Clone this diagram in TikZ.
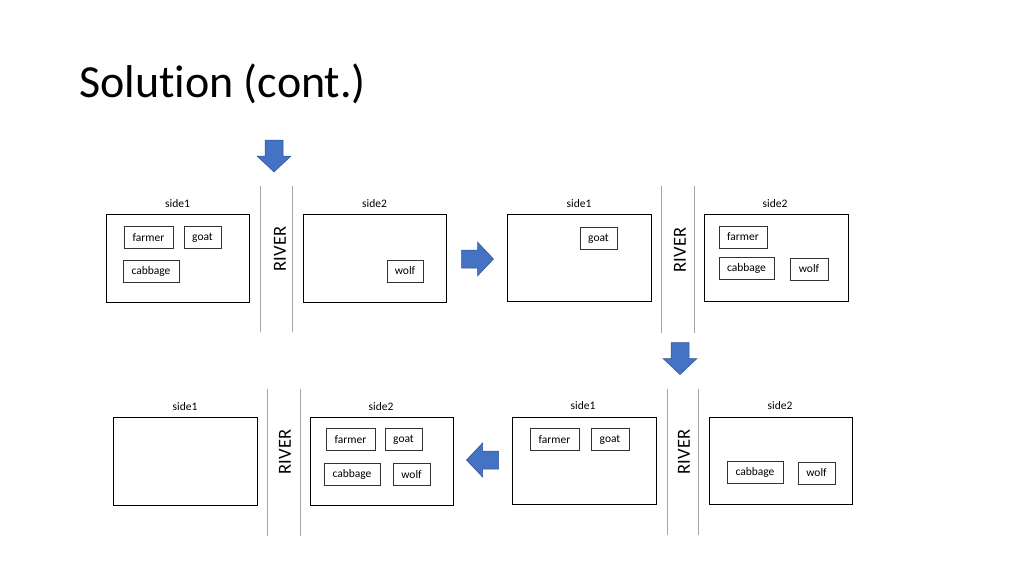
\documentclass[tikz,border=0pt]{standalone}
\usepackage{fontspec}
\setmainfont{Carlito}[Ligatures=NoCommon]
\definecolor{arrowblue}{HTML}{4472C4}
\definecolor{arrowedge}{HTML}{2F528F}
\definecolor{rivergray}{HTML}{A6A6A6}
\newcommand\blockarrow[3]{%
  \begin{scope}[shift={(#1,#2)},rotate=#3]
    \filldraw[fill=arrowblue,draw=arrowedge,line width=0.5pt,line join=miter]
      (-16,-9) -- (0,-9) -- (0,-17) -- (16,0) -- (0,17) -- (0,9) -- (-16,9) -- cycle;
  \end{scope}}
\begin{document}
\begin{tikzpicture}[x=1pt,y=-1pt,
  side/.style={draw=black,line width=0.9pt,inner sep=0pt},
  item/.style={draw=black!80,line width=0.7pt,inner sep=0pt,font=\fontsize{11.5}{13}\selectfont},
  lbl/.style={font=\fontsize{11.5}{13}\selectfont,inner sep=0pt},
  riverline/.style={draw=rivergray,line width=1pt},
  rivertxt/.style={font=\fontsize{18.5}{20}\selectfont,rotate=90,inner sep=0pt}]
\useasboundingbox (0,0) rectangle (1024,576);
% title
\node[anchor=base west,inner sep=0pt,font=\fontsize{46}{50}\selectfont] (title) at (79,97) {Solut\kern0pt ion (cont.)};
% arrows
\blockarrow{274}{156}{-90}
\blockarrow{477.5}{259}{0}
\blockarrow{680}{358.5}{-90}
\blockarrow{482.5}{460}{180}

% ---------- panel 1 ----------
\node[side,minimum width=143pt,minimum height=88pt] (p1a) at (177.5,258) {};
\node[side,minimum width=143pt,minimum height=88pt] (p1b) at (374.5,258) {};
\node[lbl] (p1al) at (177.5,204) {side1};
\node[lbl] (p1bl) at (374.5,204) {side2};
\coordinate (r1at) at (260,186); \coordinate (r1ab) at (260,332);
\coordinate (r1bt) at (292,186); \coordinate (r1bb) at (292,332);
\draw[riverline] (r1at) -- (r1ab);
\draw[riverline] (r1bt) -- (r1bb);
\node[rivertxt] (r1) at (280,249) {RIVER};
\node[item,minimum width=49pt,minimum height=22pt] (p1farmer) at (148.5,237.5) {farmer};
\node[item,minimum width=37pt,minimum height=22pt] (p1goat) at (202.5,237.5) {goat};
\node[item,minimum width=56pt,minimum height=22pt] (p1cab) at (151,271) {cabbage};
\node[item,minimum width=36pt,minimum height=22pt] (p1wolf) at (405,271) {wolf};

% ---------- panel 2 ----------
\node[side,minimum width=144pt,minimum height=87pt] (p2a) at (579,257.5) {};
\node[side,minimum width=144pt,minimum height=87pt] (p2b) at (776,257.5) {};
\node[lbl] (p2al) at (579,204) {side1};
\node[lbl] (p2bl) at (775,204) {side2};
\coordinate (r2at) at (661,186); \coordinate (r2ab) at (661,333);
\coordinate (r2bt) at (694,186); \coordinate (r2bb) at (694,333);
\draw[riverline] (r2at) -- (r2ab);
\draw[riverline] (r2bt) -- (r2bb);
\node[rivertxt] (r2) at (680,250) {RIVER};
\node[item,minimum width=37pt,minimum height=22pt] (p2goat) at (598.5,238.5) {goat};
\node[item,minimum width=48pt,minimum height=22pt] (p2farmer) at (743,237) {farmer};
\node[item,minimum width=55pt,minimum height=22pt] (p2cab) at (746.5,268) {cabbage};
\node[item,minimum width=38pt,minimum height=22pt] (p2wolf) at (809,269) {wolf};

% ---------- panel 4 (bottom right) ----------
\node[side,minimum width=144pt,minimum height=87pt] (p4a) at (584,460.5) {};
\node[side,minimum width=143pt,minimum height=87pt] (p4b) at (780.5,460.5) {};
\node[lbl] (p4al) at (583,406) {side1};
\node[lbl] (p4bl) at (780,406) {side2};
\coordinate (r4at) at (667,389); \coordinate (r4ab) at (667,535);
\coordinate (r4bt) at (698,389); \coordinate (r4bb) at (698,535);
\draw[riverline] (r4at) -- (r4ab);
\draw[riverline] (r4bt) -- (r4bb);
\node[rivertxt] (r4) at (684,452) {RIVER};
\node[item,minimum width=49pt,minimum height=22pt] (p4farmer) at (554.5,439.5) {farmer};
\node[item,minimum width=38pt,minimum height=22pt] (p4goat) at (610,439.5) {goat};
\node[item,minimum width=56pt,minimum height=22pt] (p4cab) at (755,472) {cabbage};
\node[item,minimum width=37pt,minimum height=22pt] (p4wolf) at (816.5,473) {wolf};

% ---------- panel 3 (bottom left) ----------
\node[side,minimum width=144pt,minimum height=88pt] (p3a) at (185,461) {};
\node[side,minimum width=143pt,minimum height=88pt] (p3b) at (381.5,461) {};
\node[lbl] (p3al) at (185,406.5) {side1};
\node[lbl] (p3bl) at (381,406.5) {side2};
\coordinate (r3at) at (267,389); \coordinate (r3ab) at (267,536);
\coordinate (r3bt) at (300,389); \coordinate (r3bb) at (300,536);
\draw[riverline] (r3at) -- (r3ab);
\draw[riverline] (r3bt) -- (r3bb);
\node[rivertxt] (r3) at (285,452) {RIVER};
\node[item,minimum width=49pt,minimum height=22pt] (p3farmer) at (350.5,439.5) {farmer};
\node[item,minimum width=37pt,minimum height=22pt] (p3goat) at (403.5,439.5) {goat};
\node[item,minimum width=56pt,minimum height=22pt] (p3cab) at (352,474.5) {cabbage};
\node[item,minimum width=37pt,minimum height=22pt] (p3wolf) at (411.5,474.5) {wolf};
\end{tikzpicture}
\end{document}
